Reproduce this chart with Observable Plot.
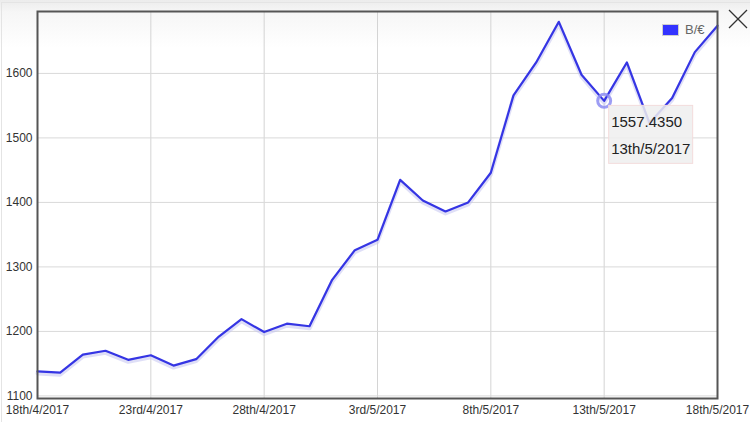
<!DOCTYPE html>
<html>
<head>
<meta charset="utf-8">
<script src="https://cdn.jsdelivr.net/npm/d3@7"></script>
<script src="https://cdn.jsdelivr.net/npm/@observablehq/plot@0.6"></script>
<style>
  body { margin: 0; background: #fff; font-family: "Liberation Sans", Arial, sans-serif; }
  #wrap { position: relative; width: 750px; height: 422px; overflow: hidden;
          background: linear-gradient(#ececec 0px, #f6f6f6 12px, #ffffff 48px); }
  #card { position: absolute; left: 1px; top: 2px; width: 800px; height: 500px; border-left: 1px solid #e4e4e4; border-top: 1px solid #e4e4e4; }
  #legend { position: absolute; left: 662px; top: 24px; height: 12px; font-size: 13px; color: #666; }
  #legend .sw { position: absolute; left: 0; top: 0; width: 15px; height: 10px; background: #3333ff; border: 1px solid #cfcfcf; }
  #legend .lb { position: absolute; left: 23px; top: -2px; white-space: nowrap; }
  #close { position: absolute; left: 728px; top: 9px; }
</style>
</head>
<body>
<div id="wrap">
  <div id="card"></div>
  <div id="chart"></div>
  <div id="legend"></div>
  <svg id="close" width="21" height="21"><line x1="1" y1="1" x2="19" y2="19" stroke="#333" stroke-width="1.3"/><line x1="19" y1="1" x2="1" y2="19" stroke="#333" stroke-width="1.3"/></svg>
</div>
<script>
// ---- data ----
const seriesName = "B/€";
const dates = [
  "2017-04-18","2017-04-19","2017-04-20","2017-04-21","2017-04-22","2017-04-23","2017-04-24",
  "2017-04-25","2017-04-26","2017-04-27","2017-04-28","2017-04-29","2017-04-30","2017-05-01",
  "2017-05-02","2017-05-03","2017-05-04","2017-05-05","2017-05-06","2017-05-07","2017-05-08",
  "2017-05-09","2017-05-10","2017-05-11","2017-05-12","2017-05-13","2017-05-14","2017-05-15",
  "2017-05-16","2017-05-17","2017-05-18"
];
const values = [
  1138, 1136, 1164, 1170, 1156, 1163, 1147,
  1157, 1192, 1219, 1199, 1212, 1208, 1280,
  1326, 1342, 1435, 1403, 1386, 1400, 1446,
  1566, 1617, 1680, 1598, 1557.435, 1617, 1523,
  1562, 1633, 1674
];
const xTickDates = ["2017-04-18","2017-04-23","2017-04-28","2017-05-03","2017-05-08","2017-05-13","2017-05-18"];
const xTickLabels = ["18th/4/2017","23rd/4/2017","28th/4/2017","3rd/5/2017","8th/5/2017","13th/5/2017","18th/5/2017"];
const yTicks = [1100, 1200, 1300, 1400, 1500, 1600];
const highlightDate = "2017-05-13";
const highlightLabel = "13th/5/2017";

// ---- build ----
const data = dates.map((d, i) => ({date: new Date(d), value: values[i]}));
const hi = data.filter(d => d.date.getTime() === Date.parse(highlightDate));
const tickDatesObj = xTickDates.map(d => new Date(d));
const labelFor = d => xTickLabels[tickDatesObj.findIndex(t => t.getTime() === d.getTime())];

const chart = Plot.plot({
  width: 750,
  height: 422,
  marginLeft: 37,
  marginRight: 33,
  marginTop: 11,
  marginBottom: 24,
  style: {fontFamily: "Liberation Sans, Arial, sans-serif", fontSize: "12px", color: "#333", background: "transparent"},
  x: {type: "utc", domain: [data[0].date, data[data.length - 1].date], label: null},
  y: {domain: [1096, 1696], label: null},
  marks: [
    Plot.ruleX(tickDatesObj, {stroke: "#d4d4d4", strokeWidth: 1}),
    Plot.ruleY(yTicks, {stroke: "#d9d9d9", strokeWidth: 1}),
    Plot.axisX({ticks: tickDatesObj, tickFormat: labelFor, tickSize: 0, tickPadding: 7, fill: "#333", fontSize: 12, label: null}),
    Plot.axisY({ticks: yTicks, tickFormat: d => String(d), tickSize: 0, tickPadding: 5, fill: "#333", fontSize: 12, label: null}),
    Plot.line(data, {x: "date", y: "value", stroke: "#c4c4f0", strokeWidth: 4, dy: 2, strokeOpacity: 0.55}),
    Plot.line(data, {x: "date", y: "value", stroke: "#3535e4", strokeWidth: 2.2}),
    Plot.frame({stroke: "#555", strokeWidth: 2}),
    Plot.dot(hi, {x: "date", y: "value", r: 6.5, stroke: "#8c8cf2", strokeWidth: 3, fill: "none", strokeOpacity: 0.85}),
    Plot.text(hi, {x: "date", y: "value", text: d => d.value.toFixed(4), textAnchor: "start", dx: 7, dy: 21.5, fontSize: 15, fill: "#222", className: "tiptext"}),
    Plot.text(hi, {x: "date", y: "value", text: () => highlightLabel, textAnchor: "start", dx: 7, dy: 48, fontSize: 15, fill: "#222", className: "tiptext"})
  ]
});
document.getElementById("chart").appendChild(chart);

// legend
document.getElementById("legend").innerHTML = `<span class="sw"></span><span class="lb">${seriesName}</span>`;

// tooltip box behind the texts, anchored at the highlighted point via the plot's scales
if (hi.length) {
  const px = chart.scale("x").apply(hi[0].date);
  const py = chart.scale("y").apply(hi[0].value);
  const firstG = chart.querySelector("g.tiptext");
  const rect = document.createElementNS("http://www.w3.org/2000/svg", "rect");
  rect.setAttribute("x", px + 5);
  rect.setAttribute("y", py + 5);
  rect.setAttribute("width", 84);
  rect.setAttribute("height", 58);
  rect.setAttribute("fill", "#efefef");
  rect.setAttribute("fill-opacity", "0.85");
  rect.setAttribute("stroke", "#f3dcdc");
  rect.setAttribute("stroke-width", "1");
  firstG.parentNode.insertBefore(rect, firstG);
}
</script>
</body>
</html>
